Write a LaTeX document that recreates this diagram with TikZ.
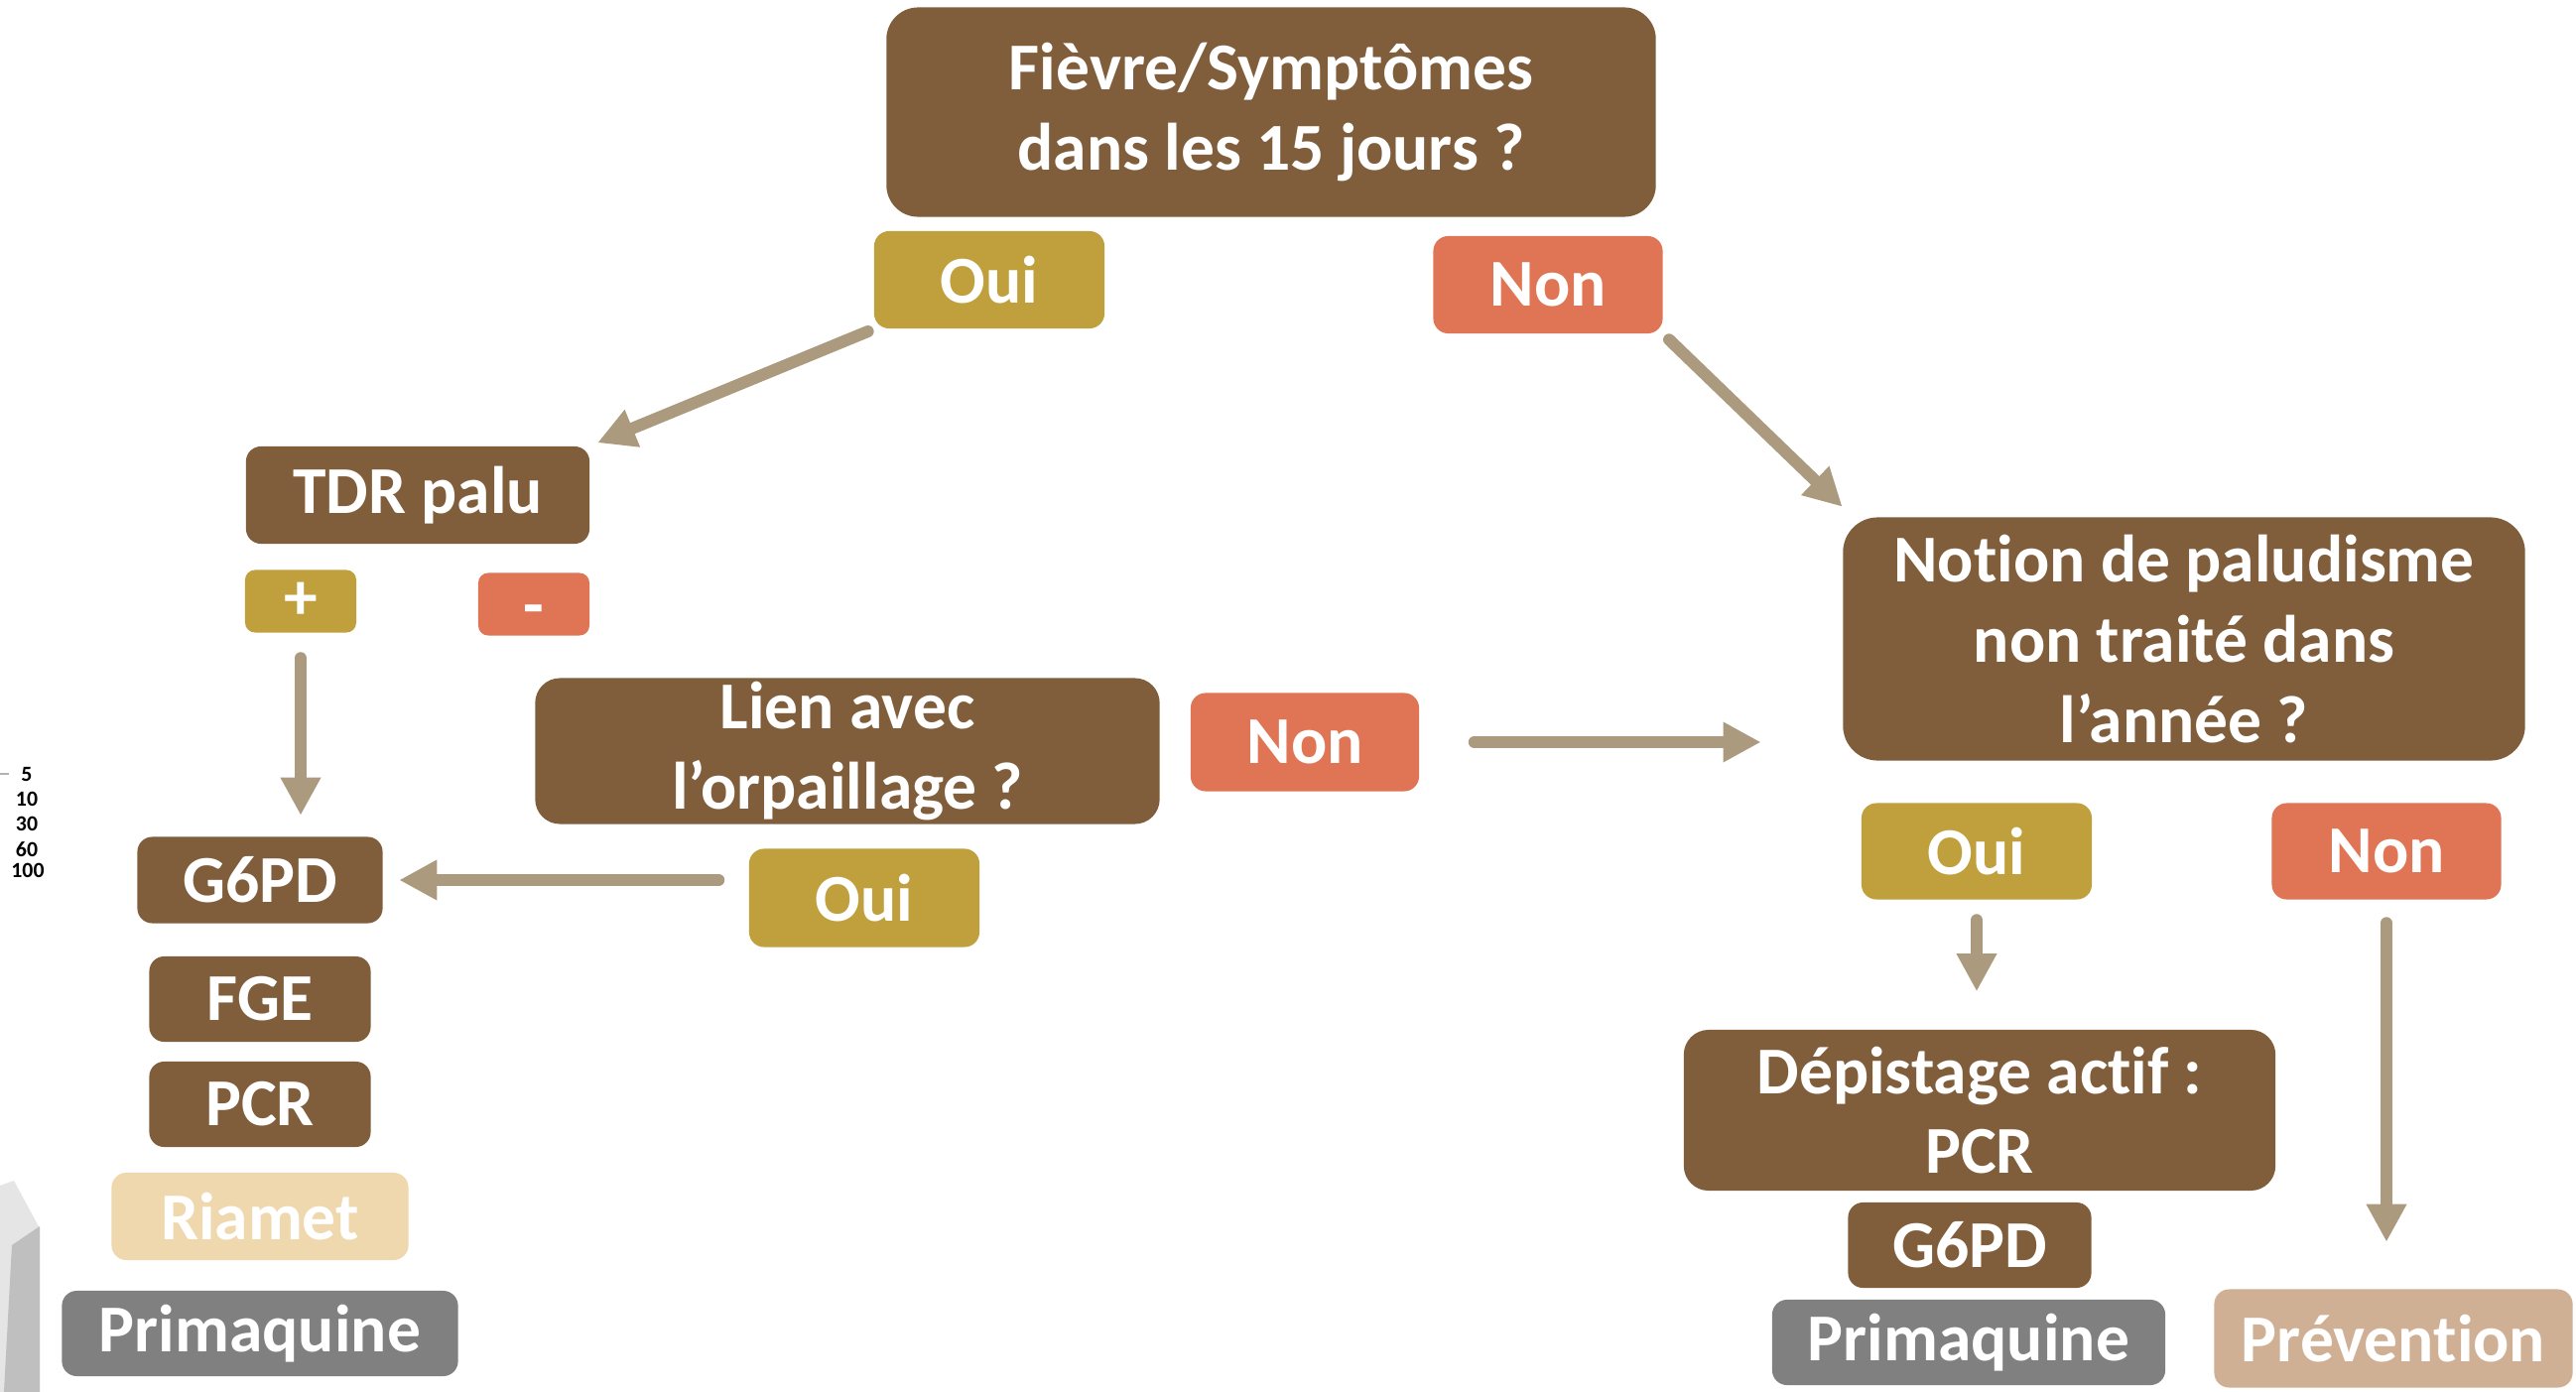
\documentclass[tikz,border=0pt]{standalone}
\usepackage{fontspec}
\setmainfont{Carlito}[Ligatures={NoCommon}]
\usetikzlibrary{arrows.meta}
\definecolor{brownbox}{HTML}{805E3C}
\definecolor{olivebox}{HTML}{BFA03D}
\definecolor{orangebox}{HTML}{E07555}
\definecolor{arrowc}{HTML}{AB9A7D}
\definecolor{riametc}{HTML}{EFD8AE}
\definecolor{greybox}{HTML}{808080}
\definecolor{prevc}{HTML}{CFB094}
\tikzset{
  box/.style={rounded corners=0.15cm, text=white, inner sep=0pt, align=center,
    font=\bfseries\fontsize{19.2}{23}\selectfont},
  bigbox/.style={box, rounded corners=0.32cm},
  arr/.style={draw=arrowc, line width=0.12cm, line cap=round,
    -{Triangle[length=0.38cm,width=0.38cm]}},
  tiny/.style={font=\bfseries\fontsize{6.2}{7}\selectfont, inner sep=0pt}
}
\begin{document}
\begin{tikzpicture}[x=0.01cm,y=-0.01cm]
\useasboundingbox[fill=white] (0,0) rectangle (2596,1403);

% partial grey shape at the left edge
\fill[gray!20] (0,1195) -- (14,1190) -- (40,1238) -- (40,1403) -- (0,1403) -- cycle;
\fill[gray!50] (12,1255) -- (40,1236) -- (40,1403) -- (4,1403) -- cycle;
\draw[gray!60, line width=0.02cm] (0,780) -- (9,780);
\node[tiny] (n5) at (27,780) {5};
\node[tiny] (n10) at (27,805) {10};
\node[tiny] (n30) at (27,830) {30};
\node[tiny] (n60) at (27,856) {60};
\node[tiny] (n100) at (28,877) {100};

% top
\node[bigbox, fill=brownbox, minimum width=7.75cm, minimum height=2.11cm] (top) at (1281,113) {Fièvre/Symptômes\\dans les 15 jours ?};
\node[box, fill=olivebox, minimum width=2.32cm, minimum height=0.98cm] (oui1) at (997,282) {Oui};
\node[box, fill=orangebox, minimum width=2.31cm, minimum height=0.98cm] (non1) at (1560,287) {Non};

% left branch
\node[box, fill=brownbox, minimum width=3.46cm, minimum height=0.98cm] (tdr) at (421,499) {TDR palu};
\node[box, fill=olivebox, rounded corners=0.1cm, minimum width=1.12cm, minimum height=0.63cm] (plus) at (303,606) {+};
\node[box, fill=orangebox, rounded corners=0.1cm, minimum width=1.12cm, minimum height=0.63cm, text height=0.46cm, text depth=0cm] (minus) at (538,609) {-};
\node[bigbox, rounded corners=0.25cm, fill=brownbox, minimum width=6.29cm, minimum height=1.47cm] (lien) at (854,757) {Lien avec\\l’orpaillage ?};
\node[box, fill=orangebox, minimum width=2.30cm, minimum height=0.99cm] (non2) at (1315,748) {Non};
\node[box, fill=olivebox, minimum width=2.32cm, minimum height=0.99cm] (oui2) at (871,905) {Oui};

\node[box, fill=brownbox, minimum width=2.47cm, minimum height=0.87cm] (g6pd1) at (262,887) {G6PD};
\node[box, fill=brownbox, minimum width=2.23cm, minimum height=0.86cm] (fge) at (262,1007) {FGE};
\node[box, fill=brownbox, minimum width=2.23cm, minimum height=0.86cm] (pcr1) at (262,1113) {PCR};
\node[box, fill=riametc, minimum width=2.99cm, minimum height=0.88cm] (riamet) at (262,1226) {Riamet};
\node[box, fill=greybox, minimum width=3.99cm, minimum height=0.86cm] (prim1) at (262,1344) {Primaquine};

% right branch
\node[bigbox, rounded corners=0.35cm, fill=brownbox, minimum width=6.87cm, minimum height=2.45cm] (notion) at (2201,644) {Notion de paludisme\\non traité dans\\l’année ?};
\node[box, fill=olivebox, minimum width=2.32cm, minimum height=0.97cm] (oui3) at (1992,858) {Oui};
\node[box, fill=orangebox, minimum width=2.31cm, minimum height=0.97cm] (non3) at (2405,858) {Non};
\node[bigbox, rounded corners=0.25cm, fill=brownbox, minimum width=5.96cm, minimum height=1.62cm] (dep) at (1995,1119) {Dépistage actif :\\PCR};
\node[box, fill=brownbox, minimum width=2.45cm, minimum height=0.86cm] (g6pd2) at (1985,1255) {G6PD};
\node[box, fill=greybox, minimum width=3.96cm, minimum height=0.86cm] (prim2) at (1984,1353) {Primaquine};
\node[box, fill=prevc, minimum width=3.61cm, minimum height=0.99cm] (prev) at (2412,1349) {Prévention};

% arrows
\draw[arr, shorten <=0.06cm, shorten >=0.08cm] (oui1.south west) -- (tdr.north east);
\draw[arr, shorten <=0.08cm] (non1.south east) -- ([yshift=0.1cm]notion.north west);
\draw[arr, shorten <=0.25cm, shorten >=0.21cm] (plus.south) -- (plus.south |- g6pd1.north);
\draw[arr, shorten <=0.55cm, shorten >=0.82cm] (non2.east) -- (non2.east -| notion.west);
\draw[arr, shorten <=0.30cm, shorten >=0.16cm] (oui2.west |- g6pd1.east) -- (g6pd1.east);
\draw[arr, shorten <=0.20cm, shorten >=0.38cm] (oui3.south) -- (oui3.south |- dep.north);
\draw[arr, shorten <=0.23cm, shorten >=0.47cm] (non3.south) -- (non3.south |- prev.north);
\end{tikzpicture}
\end{document}
